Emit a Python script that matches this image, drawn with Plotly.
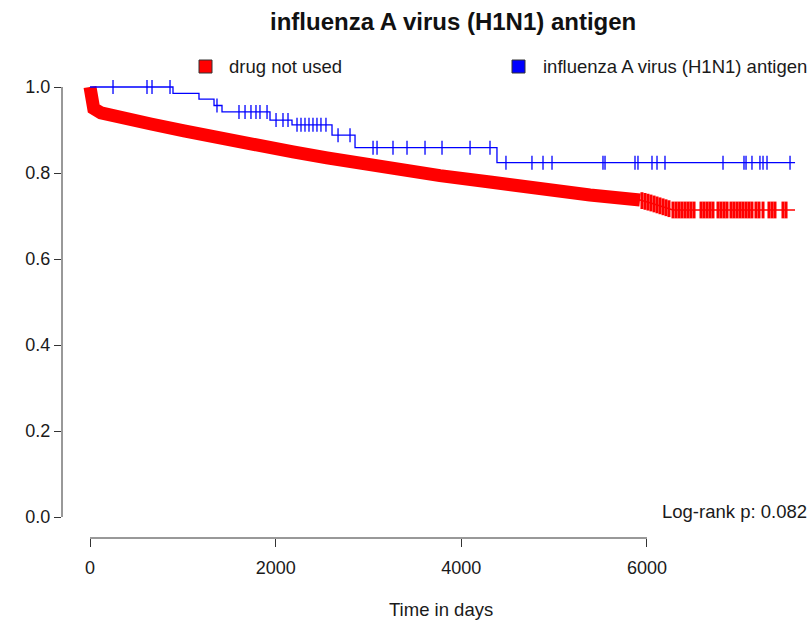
import numpy as np
import plotly.graph_objects as go

# ---------------- data ----------------
title_text = "influenza A virus (H1N1) antigen"
group_names = ["drug not used", "influenza A virus (H1N1) antigen"]
pvalue_text = "Log-rank p: 0.082"

# red group: Kaplan-Meier curve (days, survival)
red_time = [0, 8, 40, 118, 291, 657, 1013, 1368, 1831, 2187, 2553, 2909, 3232,
            3770, 4309, 4848, 5386, 5925, 6032, 6194, 6280, 7595]
red_surv = [1.0, 0.965, 0.950, 0.940, 0.930, 0.914, 0.898, 0.881, 0.862, 0.849,
            0.835, 0.821, 0.809, 0.794, 0.779, 0.762, 0.749, 0.737, 0.731, 0.720,
            0.714, 0.714]
# dense censoring region of the red group (marks overlap into a band)
red_dense_until = 5925
# individually visible red censor marks in the tail
red_censor = [5946, 5979, 6011, 6043, 6076, 6108, 6140, 6173, 6205, 6237, 6280,
              6313, 6345, 6377, 6410, 6442, 6474, 6507, 6582, 6614, 6647, 6679,
              6711, 6765, 6797, 6830, 6862, 6905, 6937, 6970, 7002, 7034, 7067,
              7099, 7131, 7174, 7207, 7250, 7314, 7347, 7379, 7465, 7498]

# blue group: step curve
blue_time = [0, 894, 1174, 1336, 1422, 1939, 2176, 2607, 2855, 4384]
blue_surv = [1.0, 0.985, 0.972, 0.957, 0.942, 0.923, 0.912, 0.888, 0.859, 0.824]
blue_end = 7595
blue_censor = [248, 614, 668, 862, 1368, 1605, 1670, 1734, 1788, 1831, 1907, 2004,
               2079, 2133, 2230, 2273, 2316, 2359, 2402, 2445, 2488, 2542, 2672,
               2801, 3049, 3092, 3264, 3415, 3609, 3792, 4094, 4309, 4481, 4761,
               4880, 4977, 5526, 5548, 5871, 5903, 6054, 6108, 6194, 6819, 7045,
               7067, 7131, 7217, 7250, 7293, 7541]

x_ticks = [0, 2000, 4000, 6000]
y_ticks = [0.0, 0.2, 0.4, 0.6, 0.8, 1.0]
y_tick_labels = ["0.0", "0.2", "0.4", "0.6", "0.8", "1.0"]

# ---------------- layout geometry (page pixels) ----------------
W, H = 811, 621
PLOT_L, PLOT_R, PLOT_T, PLOT_B = 62, 811, 70, 538
ML, MR, MT, MB = PLOT_L, W - PLOT_R, PLOT_T, H - PLOT_B
PW, PH = W - ML - MR, H - MT - MB
FONT = "Liberation Sans, Arial, Helvetica, sans-serif"
RED = "#FF0000"
BLUE = "#0000FF"
AX = "#333333"
TXT = "#1a1a1a"
FS = 18.5


def px_x(p):
    return (p - PLOT_L) / PW


def px_y(p):
    return (PLOT_B - p) / PH


def step_lookup(times, survs, t):
    idx = np.searchsorted(np.asarray(times), np.asarray(t), side="right") - 1
    return np.asarray(survs)[idx]


rt = np.array(red_time, dtype=float)
rs = np.array(red_surv, dtype=float)
band = rt <= red_dense_until

fig = go.Figure()

# red: dense band of censor marks
fig.add_trace(go.Scatter(x=rt[band], y=rs[band], mode="lines",
                         line=dict(color=RED, width=13), hoverinfo="skip",
                         showlegend=False))
# red: curve
fig.add_trace(go.Scatter(x=rt, y=rs, mode="lines",
                         line=dict(color=RED, width=1.5), hoverinfo="skip",
                         showlegend=False))
# red: tail censor marks
fig.add_trace(go.Scatter(x=red_censor, y=np.interp(red_censor, rt, rs),
                         mode="markers",
                         marker=dict(symbol="line-ns", size=12,
                                     line=dict(color=RED, width=3)),
                         hoverinfo="skip", showlegend=False))

# blue: step curve
bx = list(blue_time) + [blue_end]
by = list(blue_surv) + [blue_surv[-1]]
fig.add_trace(go.Scatter(x=bx, y=by, mode="lines", line_shape="hv",
                         line=dict(color=BLUE, width=1.3), hoverinfo="skip",
                         showlegend=False))
fig.add_trace(go.Scatter(x=blue_censor,
                         y=step_lookup(blue_time, blue_surv, blue_censor),
                         mode="markers",
                         marker=dict(symbol="line-ns", size=10,
                                     line=dict(color=BLUE, width=1.3)),
                         hoverinfo="skip", showlegend=False))

# axes ranges: page x pixel 90 -> day 0, 92.83 px per 1000 days
x_per_px = 1000 / 92.83
x0_px = 90
xr = [(PLOT_L - x0_px) * x_per_px, (PLOT_R - x0_px) * x_per_px]
# page y pixel 517 -> 0.0, 430 px per unit
y_per_px = 1 / 430.0
y0_px = 517
yr = [(y0_px - PLOT_B) * y_per_px, (y0_px - PLOT_T) * y_per_px]

tickfont = dict(family=FONT, size=18, color=TXT)
fig.update_xaxes(range=xr, tickvals=x_ticks, ticktext=[str(v) for v in x_ticks],
                 ticks="outside", ticklen=8, tickwidth=1, tickcolor=AX,
                 showline=False, showgrid=False, zeroline=False,
                 tickfont=tickfont, ticklabelstandoff=5, fixedrange=True)
fig.update_yaxes(range=yr, tickvals=y_ticks, ticktext=y_tick_labels,
                 ticks="outside", ticklen=7, tickwidth=1, tickcolor=AX,
                 showline=False, showgrid=False, zeroline=False,
                 tickfont=tickfont, ticklabelstandoff=0, fixedrange=True)

shapes = [
    # R-style axis lines spanning the tick range only
    dict(type="line", xref="paper", yref="y", x0=0, x1=0,
         y0=min(y_ticks), y1=max(y_ticks), line=dict(color=AX, width=1)),
    dict(type="line", xref="x", yref="paper", x0=min(x_ticks), x1=max(x_ticks),
         y0=0, y1=0, line=dict(color=AX, width=1)),
    # legend keys
    dict(type="rect", xref="paper", yref="paper", x0=px_x(199), x1=px_x(212),
         y0=px_y(73), y1=px_y(60), fillcolor=RED, line=dict(color="#333", width=1)),
    dict(type="rect", xref="paper", yref="paper", x0=px_x(512), x1=px_x(525),
         y0=px_y(73), y1=px_y(60), fillcolor=BLUE, line=dict(color="#333", width=1)),
]

annotations = [
    dict(text="<b>" + title_text + "</b>", xref="paper", yref="paper",
         x=px_x(453), y=px_y(22), xanchor="center", yanchor="middle",
         showarrow=False, font=dict(family=FONT, size=24, color="#111")),
    dict(text=group_names[0], xref="paper", yref="paper", x=px_x(227),
         y=px_y(66), xanchor="left", yanchor="middle", showarrow=False,
         font=dict(family=FONT, size=FS, color=TXT)),
    dict(text=group_names[1], xref="paper", yref="paper", x=px_x(541),
         y=px_y(66), xanchor="left", yanchor="middle", showarrow=False,
         font=dict(family=FONT, size=FS, color=TXT)),
    dict(text=pvalue_text, xref="paper", yref="paper", x=px_x(809),
         y=px_y(511), xanchor="right", yanchor="middle", showarrow=False,
         font=dict(family=FONT, size=FS, color=TXT)),
    dict(text="Time in days", xref="paper", yref="paper", x=px_x(441),
         y=px_y(609), xanchor="center", yanchor="middle", showarrow=False,
         font=dict(family=FONT, size=FS, color=TXT)),
]

fig.update_layout(width=W, height=H, autosize=False,
                  margin=dict(l=ML, r=MR, t=MT, b=MB, pad=0),
                  paper_bgcolor="white", plot_bgcolor="white",
                  hovermode=False, dragmode=False,
                  shapes=shapes, annotations=annotations, showlegend=False)

fig.write_html("out.html",
               config={"displayModeBar": False, "staticPlot": True},
               post_script="document.body.style.margin='0';"
                           "document.body.style.overflow='hidden';")
